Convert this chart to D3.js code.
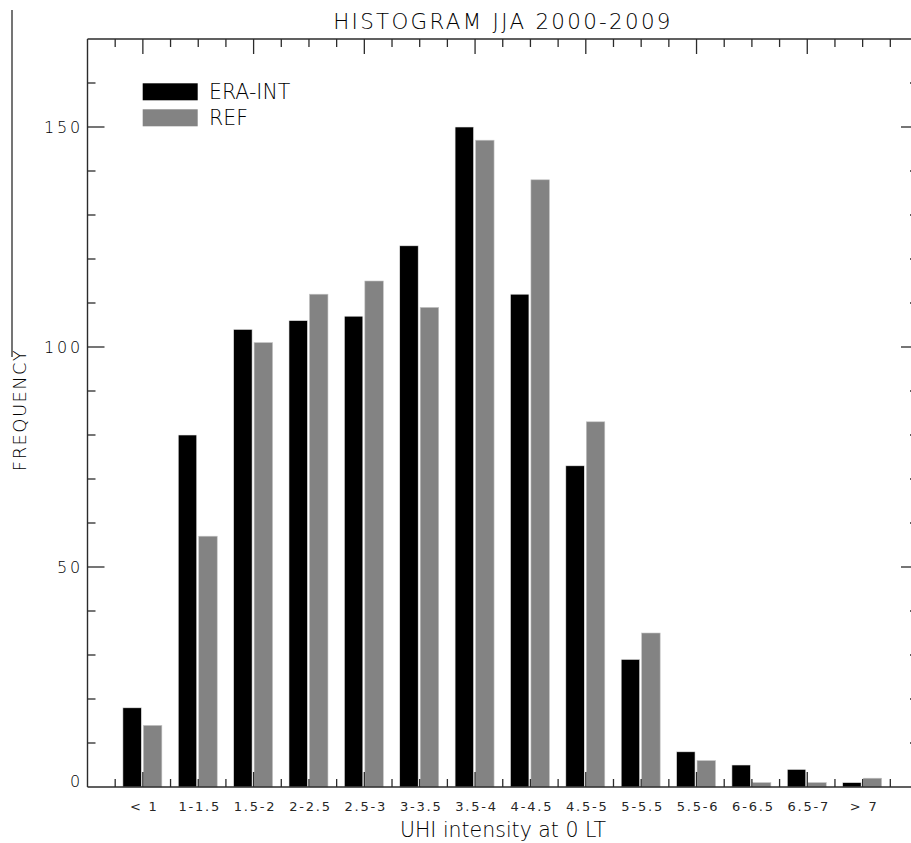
<!DOCTYPE html>
<html>
<head>
<meta charset="utf-8">
<script src="https://cdn.jsdelivr.net/npm/d3@7"></script>
<style>
  body { margin: 0; background: #fff; }
  text { font-family: "DejaVu Sans", "Liberation Sans", sans-serif; font-weight: 200; fill: #000; }
  text.small { font-weight: 400; fill: #262626; }
</style>
</head>
<body>
<svg id="chart" width="911" height="843"></svg>
<script>
// UHI intensity classes (bins of 0.5 degree)
const categories = ["< 1", "1-1.5", "1.5-2", "2-2.5", "2.5-3", "3-3.5", "3.5-4",
                    "4-4.5", "4.5-5", "5-5.5", "5.5-6", "6-6.5", "6.5-7", "> 7"];
// Frequencies per class for the two data sets
const eraInt = [18, 80, 104, 106, 107, 123, 150, 112, 73, 29, 8, 5, 4, 1];
const refData = [14, 57, 101, 112, 115, 109, 147, 138, 83, 35, 6, 1, 1, 2];
const seriesNames = ["ERA-INT", "REF"];
const seriesColors = ["#000000", "#838383"];
const yMajorTicks = [0, 50, 100, 150];
const yMinorStep = 10;
const titleText = "HISTOGRAM JJA 2000-2009";
const xTitle = "UHI intensity at 0 LT";
const yTitle = "FREQUENCY";

const svg = d3.select("#chart");
const axisColor = "#2b2b2b";

// Frame geometry (right edge of the frame lies just outside the page)
const frameL = 87.5, frameR = 918, frameT = 39, frameB = 787;

// x: class index, one unit per class; frame spans from -1 to 14
const x = d3.scaleLinear().domain([-1, 14]).range([frameL, frameR]);
const y = d3.scaleLinear().domain([0, 170]).range([frameB, frameT]);

// Stray rule on the far left
svg.append("line").attr("x1", 12).attr("x2", 12).attr("y1", 10).attr("y2", 357)
  .attr("stroke", axisColor).attr("stroke-width", 1.3);

// Bars
const barW = 0.334;
const offsets = [-0.361, 0.009];
const series = [eraInt, refData];
series.forEach((vals, s) => {
  svg.append("g").selectAll("rect").data(vals).join("rect")
    .attr("x", (d, i) => x(i + offsets[s]))
    .attr("width", x(barW) - x(0))
    .attr("y", d => y(d))
    .attr("height", d => y(0) - y(d))
    .attr("fill", seriesColors[s])
    .attr("stroke", s === 0 ? "#e8e8e8" : "#c4c4c4")
    .attr("stroke-width", 0.6);
});

// Frame lines
const frame = svg.append("g").attr("stroke", axisColor).attr("stroke-width", 1.4).attr("fill", "none");
frame.append("line").attr("x1", frameL).attr("x2", frameR).attr("y1", frameT).attr("y2", frameT);
frame.append("line").attr("x1", frameL).attr("x2", frameR).attr("y1", frameB).attr("y2", frameB);
frame.append("line").attr("x1", frameL).attr("x2", frameL).attr("y1", frameT).attr("y2", frameB);
frame.append("line").attr("x1", frameR).attr("x2", frameR).attr("y1", frameT).attr("y2", frameB);

// x ticks: minor every half class, major every two classes (top and bottom)
const xTickVals = d3.range(-0.5, 14, 0.5);
const ticks = svg.append("g").attr("stroke", axisColor).attr("stroke-width", 1.3);
xTickVals.forEach(v => {
  const major = Number.isInteger(v) && v % 2 === 0;
  const len = major ? 15 : 8;
  ticks.append("line").attr("x1", x(v)).attr("x2", x(v)).attr("y1", frameB).attr("y2", frameB - len);
  ticks.append("line").attr("x1", x(v)).attr("x2", x(v)).attr("y1", frameT).attr("y2", frameT + len);
});

// y ticks: minor every 10, major at labelled values (left and right)
const yTickVals = d3.range(yMinorStep, 170, yMinorStep);
yTickVals.forEach(v => {
  const major = yMajorTicks.includes(v);
  const len = major ? 17 : 8;
  ticks.append("line").attr("x1", frameL).attr("x2", frameL + len).attr("y1", y(v)).attr("y2", y(v));
  ticks.append("line").attr("x1", frameR).attr("x2", frameR - len).attr("y1", y(v)).attr("y2", y(v));
});

// y tick labels
svg.append("g").selectAll("text").data(yMajorTicks).join("text")
  .attr("x", 83)
  .attr("y", d => Math.min(y(d) + 5.8, y(0)))
  .attr("text-anchor", "end")
  .attr("font-size", 16)
  .attr("letter-spacing", 2.8)
  .text(d => d);

// x category labels
svg.append("g").selectAll("text").data(categories).join("text")
  .attr("class", "small")
  .attr("x", (d, i) => x(i) + 1.5)
  .attr("y", 810.5)
  .attr("text-anchor", "middle")
  .attr("font-size", 13)
  .attr("letter-spacing", 1.8)
  .text(d => d);

// Titles
svg.append("text").attr("x", 503).attr("y", 28.5).attr("text-anchor", "middle")
  .attr("font-size", 21.4).attr("letter-spacing", 2.3).text(titleText);
svg.append("text").attr("x", 503).attr("y", 837).attr("text-anchor", "middle")
  .attr("font-size", 20.5).text(xTitle);
svg.append("text").attr("transform", "translate(25.5,410) rotate(-90)")
  .attr("text-anchor", "middle").attr("font-size", 18).attr("letter-spacing", 1.4).text(yTitle);

// Legend
const legend = svg.append("g");
seriesNames.forEach((name, s) => {
  const ly = 83.3 + s * 26;
  legend.append("rect").attr("x", 142.7).attr("y", ly).attr("width", 55).attr("height", 17)
    .attr("fill", seriesColors[s]);
  legend.append("text").attr("x", 209).attr("y", ly + 15.2).attr("font-size", 20.5).text(name);
});
</script>
</body>
</html>
